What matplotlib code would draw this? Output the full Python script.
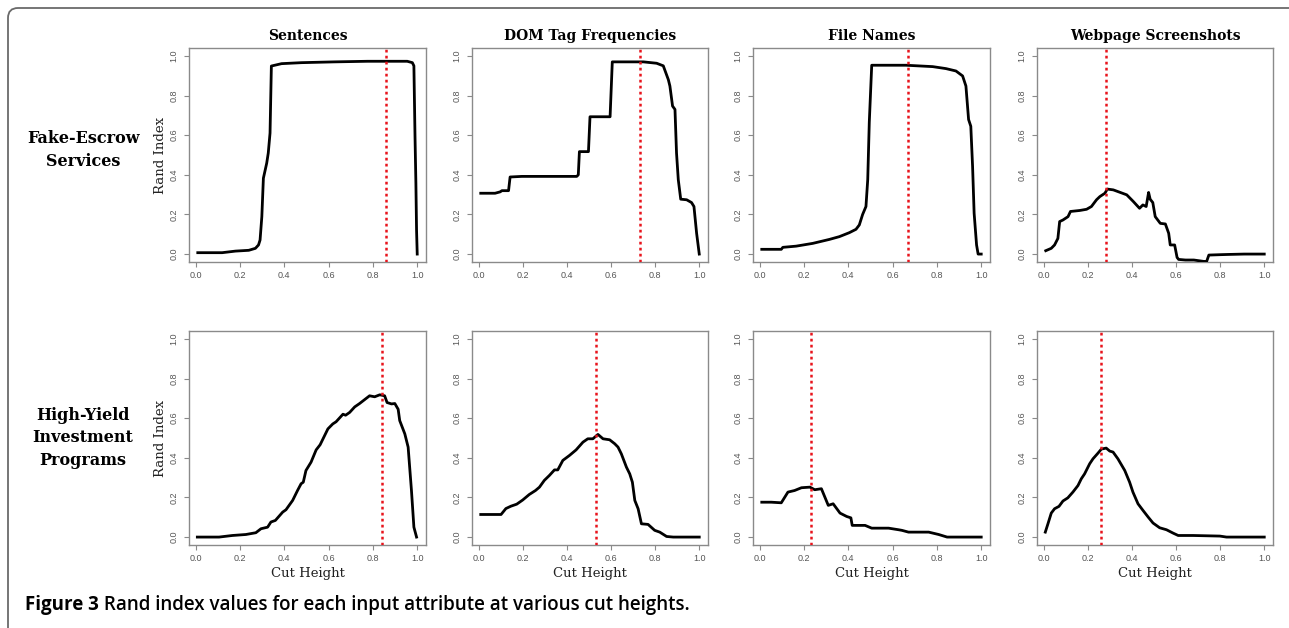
import matplotlib
matplotlib.use("Agg")
import matplotlib.pyplot as plt
from matplotlib.path import Path
from matplotlib.patches import PathPatch

W, H = 1289, 628

# ---------------- data ----------------
col_titles = ["Sentences", "DOM Tag Frequencies", "File Names", "Webpage Screenshots"]
row_labels = ["Fake-Escrow\nServices", "High-Yield\nInvestment\nPrograms"]
x_ticks = [0.0, 0.2, 0.4, 0.6, 0.8, 1.0]
y_ticks = [0.0, 0.2, 0.4, 0.6, 0.8, 1.0]

# Fake-Escrow Services
fe_sent_x = [0.01, 0.12, 0.18, 0.24, 0.27, 0.284, 0.291, 0.299, 0.306, 0.321, 0.328, 0.336, 0.342,
             0.388, 0.478, 0.627, 0.776, 0.955, 0.978, 0.985, 0.99, 0.994, 0.997, 1.0]
fe_sent_y = [0.007, 0.007, 0.015, 0.019, 0.029, 0.046, 0.071, 0.189, 0.383, 0.459, 0.51, 0.611, 0.949,
             0.961, 0.966, 0.970, 0.973, 0.973, 0.966, 0.95, 0.595, 0.358, 0.12, 0.0]

fe_dom_x = [0.01, 0.075, 0.098, 0.106, 0.136, 0.143, 0.196, 0.445, 0.452, 0.457, 0.498, 0.505, 0.596,
            0.606, 0.747, 0.807, 0.837, 0.860, 0.867, 0.879, 0.89, 0.897, 0.905, 0.916, 0.943, 0.965,
            0.976, 0.988, 1.0]
fe_dom_y = [0.307, 0.307, 0.314, 0.32, 0.32, 0.389, 0.392, 0.392, 0.40, 0.517, 0.517, 0.693, 0.693,
            0.97, 0.97, 0.963, 0.95, 0.88, 0.848, 0.747, 0.73, 0.51, 0.375, 0.277, 0.274, 0.26,
            0.24, 0.105, 0.0]

fe_file_x = [0.01, 0.098, 0.105, 0.165, 0.24, 0.315, 0.36, 0.405, 0.435, 0.45, 0.465, 0.48, 0.488,
             0.495, 0.506, 0.661, 0.781, 0.841, 0.886, 0.916, 0.931, 0.943, 0.953, 0.961, 0.968,
             0.979, 0.986, 1.0]
fe_file_y = [0.024, 0.024, 0.034, 0.04, 0.054, 0.074, 0.088, 0.108, 0.125, 0.147, 0.2, 0.24, 0.376,
             0.665, 0.953, 0.953, 0.946, 0.936, 0.924, 0.899, 0.848, 0.679, 0.645, 0.443, 0.206,
             0.046, 0.0, 0.0]

fe_web_x = [0.01, 0.035, 0.05, 0.065, 0.073, 0.088, 0.111, 0.122, 0.164, 0.195,
            0.217, 0.24, 0.255, 0.278, 0.289, 0.316, 0.377, 0.407, 0.435, 0.45,
            0.465, 0.476, 0.483, 0.495, 0.506, 0.529, 0.552, 0.567, 0.574, 0.594,
            0.605, 0.612, 0.643, 0.681, 0.726, 0.739, 0.749, 0.802, 0.833, 0.909, 1.0]
fe_web_y = [0.017, 0.029, 0.046, 0.079, 0.164, 0.172, 0.189, 0.215, 0.22, 0.226,
            0.24, 0.274, 0.29, 0.307, 0.328, 0.324, 0.299, 0.265, 0.231, 0.248,
            0.24, 0.311, 0.277, 0.26, 0.189, 0.155, 0.152, 0.105, 0.046, 0.046,
            -0.017, -0.027, -0.03, -0.03, -0.037, -0.037, -0.005, -0.003, -0.002, 0.0, 0.0]

# High-Yield Investment Programs
hy_sent_x = [0.008, 0.106, 0.166, 0.227, 0.272, 0.295, 0.325, 0.34, 0.36, 0.393,
             0.408, 0.438, 0.46, 0.476, 0.486, 0.498, 0.521, 0.544, 0.562, 0.597,
             0.619, 0.634, 0.665, 0.677, 0.695, 0.718, 0.74, 0.755, 0.785, 0.808,
             0.831, 0.853, 0.864, 0.884, 0.899, 0.914, 0.921, 0.944, 0.959, 0.974,
             0.985, 0.997]
hy_sent_y = [0.0, 0.0, 0.008, 0.013, 0.022, 0.042, 0.05, 0.076, 0.084, 0.126,
             0.138, 0.185, 0.235, 0.269, 0.277, 0.336, 0.378, 0.44, 0.466, 0.546,
             0.571, 0.582, 0.62, 0.615, 0.629, 0.657, 0.674, 0.687, 0.713, 0.708,
             0.718, 0.713, 0.679, 0.672, 0.674, 0.645, 0.588, 0.521, 0.454, 0.235,
             0.05, 0.0]

hy_dom_x = [0.01, 0.102, 0.124, 0.147, 0.173, 0.2, 0.23, 0.258, 0.276, 0.298,
            0.321, 0.344, 0.359, 0.382, 0.412, 0.442, 0.473, 0.495, 0.518, 0.541,
            0.564, 0.594, 0.617, 0.632, 0.647, 0.67, 0.685, 0.697, 0.708, 0.723,
            0.738, 0.768, 0.798, 0.821, 0.852, 0.882, 1.0]
hy_dom_y = [0.114, 0.114, 0.144, 0.156, 0.166, 0.187, 0.215, 0.235, 0.252, 0.286,
            0.311, 0.339, 0.339, 0.387, 0.412, 0.44, 0.479, 0.496, 0.496, 0.518,
            0.496, 0.491, 0.471, 0.454, 0.42, 0.353, 0.319, 0.277, 0.185, 0.143,
            0.067, 0.064, 0.034, 0.025, 0.003, 0.0, 0.0]

hy_file_x = [0.01, 0.053, 0.098, 0.128, 0.158, 0.189, 0.227, 0.249, 0.279, 0.31,
             0.332, 0.363, 0.393, 0.412, 0.418, 0.476, 0.506, 0.582, 0.627, 0.642,
             0.672, 0.763, 0.808, 0.846, 1.0]
hy_file_y = [0.176, 0.176, 0.173, 0.227, 0.235, 0.249, 0.252, 0.239, 0.244, 0.16,
             0.168, 0.121, 0.104, 0.097, 0.059, 0.059, 0.045, 0.045, 0.037, 0.034,
             0.025, 0.025, 0.013, 0.0, 0.0]

hy_web_x = [0.008, 0.02, 0.035, 0.05, 0.07, 0.088, 0.11, 0.133, 0.156, 0.171,
            0.186, 0.209, 0.224, 0.247, 0.262, 0.284, 0.3, 0.315, 0.337, 0.368,
            0.39, 0.405, 0.428, 0.451, 0.474, 0.496, 0.526, 0.557, 0.587, 0.61,
            0.678, 0.799, 0.829, 1.0]
hy_web_y = [0.025, 0.067, 0.121, 0.143, 0.155, 0.182, 0.198, 0.227, 0.26, 0.294,
            0.319, 0.37, 0.395, 0.424, 0.444, 0.449, 0.434, 0.429, 0.395, 0.336,
            0.277, 0.227, 0.168, 0.134, 0.101, 0.071, 0.047, 0.037, 0.02, 0.008,
            0.008, 0.005, 0.0, 0.0]

fe_cut = [0.86, 0.73, 0.67, 0.285]
hy_cut = [0.84, 0.53, 0.23, 0.26]

series = [
    [(fe_sent_x, fe_sent_y), (fe_dom_x, fe_dom_y), (fe_file_x, fe_file_y), (fe_web_x, fe_web_y)],
    [(hy_sent_x, hy_sent_y), (hy_dom_x, hy_dom_y), (hy_file_x, hy_file_y), (hy_web_x, hy_web_y)],
]
cuts = [fe_cut, hy_cut]

caption_bold = "Figure 3"
caption_rest = " Rand index values for each input attribute at various cut heights."

# ---------------- layout ----------------
col_px = [(189, 426), (472, 708), (753, 990), (1037, 1273)]
row_px = [(48, 262), (331, 545)]

fig = plt.figure(figsize=(W / 100, H / 100), dpi=100)
fig.patch.set_facecolor("white")

# background frame (rounded top-left corner, runs off right and bottom)
bg = fig.add_axes([0, 0, 1, 1])
bg.set_xlim(0, W)
bg.set_ylim(H, 0)
bg.axis("off")
r = 10
verts = [(W + 5, 8), (8 + r, 8), (8, 8), (8, 8 + r), (8, H + 5)]
codes = [Path.MOVETO, Path.LINETO, Path.CURVE3, Path.CURVE3, Path.LINETO]
bg.add_patch(PathPatch(Path(verts, codes), fill=False, edgecolor="#6a6a6a", lw=1.3))

serif = "DejaVu Serif"
tick_font = "Liberation Sans"
spine_col = "#8a8a8a"

for ri, (yt, yb) in enumerate(row_px):
    for ci, (xl, xr) in enumerate(col_px):
        ax = fig.add_axes([xl / W, 1 - yb / H, (xr - xl) / W, (yb - yt) / H])
        xs, ys = series[ri][ci]
        ax.plot(xs, ys, color="black", lw=2.0, solid_joinstyle="round", zorder=3)
        ax.axvline(cuts[ri][ci], color="#e8141c", lw=1.8, linestyle=(0, (1.1, 1.3)), zorder=4)
        ax.set_xlim(-0.0296, 1.0396)
        ax.set_ylim(-0.04, 1.04)
        ax.set_xticks(x_ticks)
        ax.set_yticks(y_ticks)
        ax.set_xticklabels([f"{v:.1f}" for v in x_ticks], fontfamily=tick_font, fontsize=6.5, color="#555555")
        ax.set_yticklabels([f"{v:.1f}" for v in y_ticks], fontfamily=tick_font, fontsize=6.5, color="#555555",
                           rotation=90, va="center")
        ax.tick_params(axis="both", direction="out", length=3.5, width=0.8, color=spine_col)
        ax.tick_params(axis="x", pad=3)
        ax.tick_params(axis="y", pad=4)
        for s in ax.spines.values():
            s.set_color(spine_col)
            s.set_linewidth(1.0)
        if ri == 0:
            ax.set_title(col_titles[ci], fontfamily=serif, fontweight="bold", fontsize=10, pad=6)
        if ci == 0:
            ax.set_ylabel("Rand Index", fontfamily=serif, fontsize=9.5, labelpad=2, color="#222222")
        if ri == 1:
            ax.set_xlabel("Cut Height", fontfamily=serif, fontsize=9.5, labelpad=3, color="#222222")

# row labels
fig.text(83 / W, 1 - 150 / H, row_labels[0], ha="center", va="center", fontfamily=serif,
         fontweight="bold", fontsize=11.5, linespacing=1.45)
fig.text(83 / W, 1 - 438 / H, row_labels[1], ha="center", va="center", fontfamily=serif,
         fontweight="bold", fontsize=11.5, linespacing=1.45)

# caption
t1 = fig.text(25 / W, 1 - 605 / H, caption_bold, ha="left", va="center", fontfamily="Open Sans",
              fontweight="bold", fontsize=13.5)
fig.canvas.draw()
bb = t1.get_window_extent()
fig.text(bb.x1 / W, 1 - 605 / H, caption_rest, ha="left", va="center", fontfamily="Open Sans",
         fontweight="semibold", fontsize=13.5)

fig.savefig("out.png", dpi=100, facecolor="white")
